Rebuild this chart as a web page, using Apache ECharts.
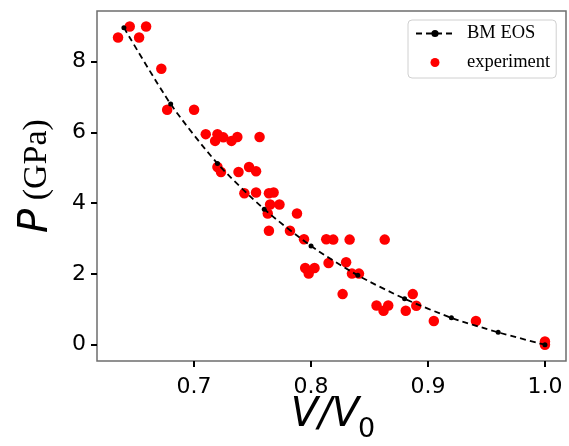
<!DOCTYPE html>
<html>
<head>
<meta charset="utf-8">
<script src="https://cdn.jsdelivr.net/npm/echarts@6/dist/echarts.min.js"></script>
<style>
html,body{margin:0;padding:0;background:#fff;}
#chart{width:569px;height:446px;}
</style>
</head>
<body>
<div id="chart"></div>
<script>
// BM EOS fit curve
const bmV = [0.64, 0.68, 0.72, 0.76, 0.80, 0.84, 0.88, 0.92, 0.96, 1.00];
const bmP = [8.96, 6.80, 5.12, 3.83, 2.79, 1.96, 1.30, 0.76, 0.35, 0.00];
// experimental points
const expV = [0.635, 0.645, 0.659, 0.653, 0.672, 0.677, 0.700, 0.710, 0.720, 0.718,
  0.725, 0.732, 0.737, 0.756, 0.720, 0.723, 0.738, 0.747, 0.753, 0.743,
  0.753, 0.764, 0.768, 0.765, 0.773, 0.763, 0.788, 0.764, 0.782, 0.794,
  0.813, 0.819, 0.833, 0.863, 0.795, 0.803, 0.798, 0.815, 0.830, 0.835,
  0.841, 0.827, 0.856, 0.866, 0.862, 0.881, 0.887, 0.890, 0.905, 0.941,
  1.000, 1.000];
const expP = [8.68, 8.99, 8.99, 8.68, 7.80, 6.64, 6.64, 5.95, 5.95, 5.76,
  5.86, 5.76, 5.87, 5.87, 5.02, 4.88, 4.88, 5.02, 4.90, 4.28,
  4.30, 4.28, 4.30, 3.96, 3.96, 3.71, 3.71, 3.22, 3.22, 2.98,
  2.98, 2.97, 2.97, 2.97, 2.17, 2.17, 2.01, 2.31, 2.33, 2.01,
  2.01, 1.43, 1.11, 1.11, 0.96, 0.96, 1.43, 1.10, 0.67, 0.67,
  0.09, 0.00];
const xTicks = [0.7, 0.8, 0.9, 1.0];
const yTicks = [0, 2, 4, 6, 8];
const seriesNames = ['BM EOS', 'experiment'];

const chart = echarts.init(document.getElementById('chart'), null, {renderer: 'canvas'});
const tickFont = {fontFamily: 'DejaVu Sans', fontSize: 22, color: '#000'};
chart.setOption({
  animation: false,
  backgroundColor: '#fff',
  grid: {left: 97, top: 11, right: 3, bottom: 85, show: true, borderColor: '#6e6e6e', borderWidth: 1.5, backgroundColor: 'transparent'},
  xAxis: {
    type: 'value', min: 0.617, max: 1.018,
    axisLine: {show: false, onZero: false},
    splitLine: {show: false},
    axisTick: {show: true, inside: false, customValues: xTicks, length: 6, lineStyle: {color: '#000', width: 2}},
    axisLabel: Object.assign({customValues: xTicks, margin: 15, formatter: v => v.toFixed(1)}, tickFont)
  },
  yAxis: {
    type: 'value', min: -0.46, max: 9.43,
    axisLine: {show: false, onZero: false},
    splitLine: {show: false},
    axisTick: {show: true, inside: false, customValues: yTicks, length: 6, lineStyle: {color: '#000', width: 2}},
    axisLabel: Object.assign({customValues: yTicks, margin: 11, formatter: v => String(Math.round(v))}, tickFont)
  },
  legend: {
    orient: 'vertical', left: 408, top: 20,
    padding: [4, 6, 6, 7],
    itemWidth: 38, itemHeight: 9, itemGap: 10,
    borderColor: '#d0d0d0', borderWidth: 1, borderRadius: 4,
    backgroundColor: '#fff',
    data: seriesNames,
    textStyle: {fontFamily: 'Liberation Serif', fontSize: 18.5, color: '#000', lineHeight: 18, padding: [0, 0, 0, 8]}
  },
  series: [
    {
      name: seriesNames[0], type: 'line', z: 3,
      data: bmV.map((v, i) => [v, bmP[i]]),
      symbol: 'circle', symbolSize: 5, showSymbol: true,
      itemStyle: {color: '#000'},
      lineStyle: {color: '#000', width: 1.8, type: [6, 4]},
      smooth: 0.25
    },
    {
      name: seriesNames[1], type: 'scatter', z: 2,
      data: expV.map((v, i) => [v, expP[i]]),
      symbol: 'circle', symbolSize: 10.5,
      itemStyle: {color: '#ff0000', opacity: 1}
    }
  ],
  graphic: [
    {
      type: 'text', x: 37, y: 176, rotation: Math.PI / 2,
      style: {
        text: '{p|P}{g| (GPa)}',
        align: 'center', verticalAlign: 'middle',
        rich: {
          p: {fontFamily: 'DejaVu Sans', fontStyle: 'italic', fontSize: 40, fill: '#000'},
          g: {fontFamily: 'Liberation Serif', fontSize: 34, fill: '#000'}
        }
      }
    },
    {
      type: 'text', x: 359, y: 416,
      style: {text: 'V/V', fontFamily: 'DejaVu Sans', fontStyle: 'italic', fontSize: 40, fill: '#000', align: 'right', verticalAlign: 'middle'}
    },
    {
      type: 'text', x: 358, y: 430,
      style: {text: '0', fontFamily: 'DejaVu Sans', fontSize: 27, fill: '#000', align: 'left', verticalAlign: 'middle'}
    }
  ]
});
</script>
</body>
</html>
